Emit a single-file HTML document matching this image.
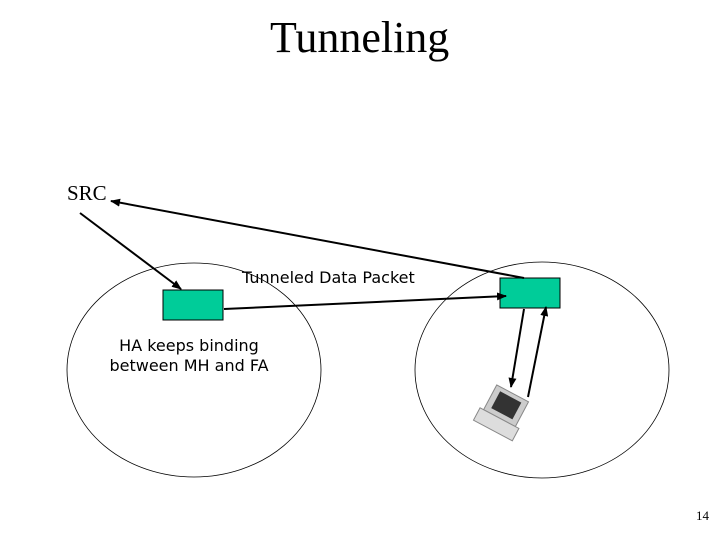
<!DOCTYPE html>
<html><head><style>
body{margin:0;width:720px;height:540px;background:#fff;overflow:hidden;position:relative;font-family:"Liberation Serif",serif}
.t{position:absolute;white-space:nowrap}
.s{font-family:"DejaVu Sans","Liberation Sans",sans-serif}
</style></head><body>
<svg width="720" height="540" style="position:absolute;left:0;top:0">
<defs><marker id="a" markerWidth="10" markerHeight="8" refX="9" refY="4" orient="auto" markerUnits="userSpaceOnUse"><path d="M0,0L10,4L0,8z" fill="#000"/></marker></defs>
<ellipse cx="194" cy="370" rx="127" ry="107" fill="none" stroke="#000" stroke-width="0.8"/>
<ellipse cx="542" cy="370" rx="127" ry="108" fill="none" stroke="#000" stroke-width="0.8"/>
<rect x="163" y="290" width="60" height="30" fill="#00cc99" stroke="#000" stroke-width="1"/>
<rect x="500" y="278" width="60" height="30" fill="#00cc99" stroke="#000" stroke-width="1"/>
<g stroke="#000" stroke-width="2" fill="none">
<line x1="80" y1="213" x2="181" y2="289" marker-end="url(#a)"/>
<line x1="524" y1="278" x2="111" y2="201" marker-end="url(#a)"/>
<line x1="224" y1="309" x2="506" y2="296" marker-end="url(#a)"/>
<line x1="524" y1="309" x2="511" y2="387" marker-end="url(#a)"/>
<line x1="528" y1="397" x2="546" y2="307" marker-end="url(#a)"/>
</g>
<g transform="translate(505,412) rotate(28)">
<rect x="-20" y="-20" width="36" height="28" fill="#ccc" stroke="#888"/>
<rect x="-14" y="-16" width="24" height="19" fill="#333"/>
<rect x="-24" y="8" width="44" height="14" fill="#ddd" stroke="#888"/>
</g>
</svg>
<div class="t" style="left:270px;top:12px;font-size:44px">Tunneling</div>
<div class="t" style="left:67px;top:181px;font-size:21px">SRC</div>
<div class="t s" style="left:242px;top:268px;font-size:16px">Tunneled Data Packet</div>
<div class="t s" style="left:104px;top:336px;font-size:16px;text-align:center;width:170px;line-height:20px">HA keeps binding<br>between MH and FA</div>
<div class="t" style="left:696px;top:508px;font-size:13px">14</div>
</body></html>
